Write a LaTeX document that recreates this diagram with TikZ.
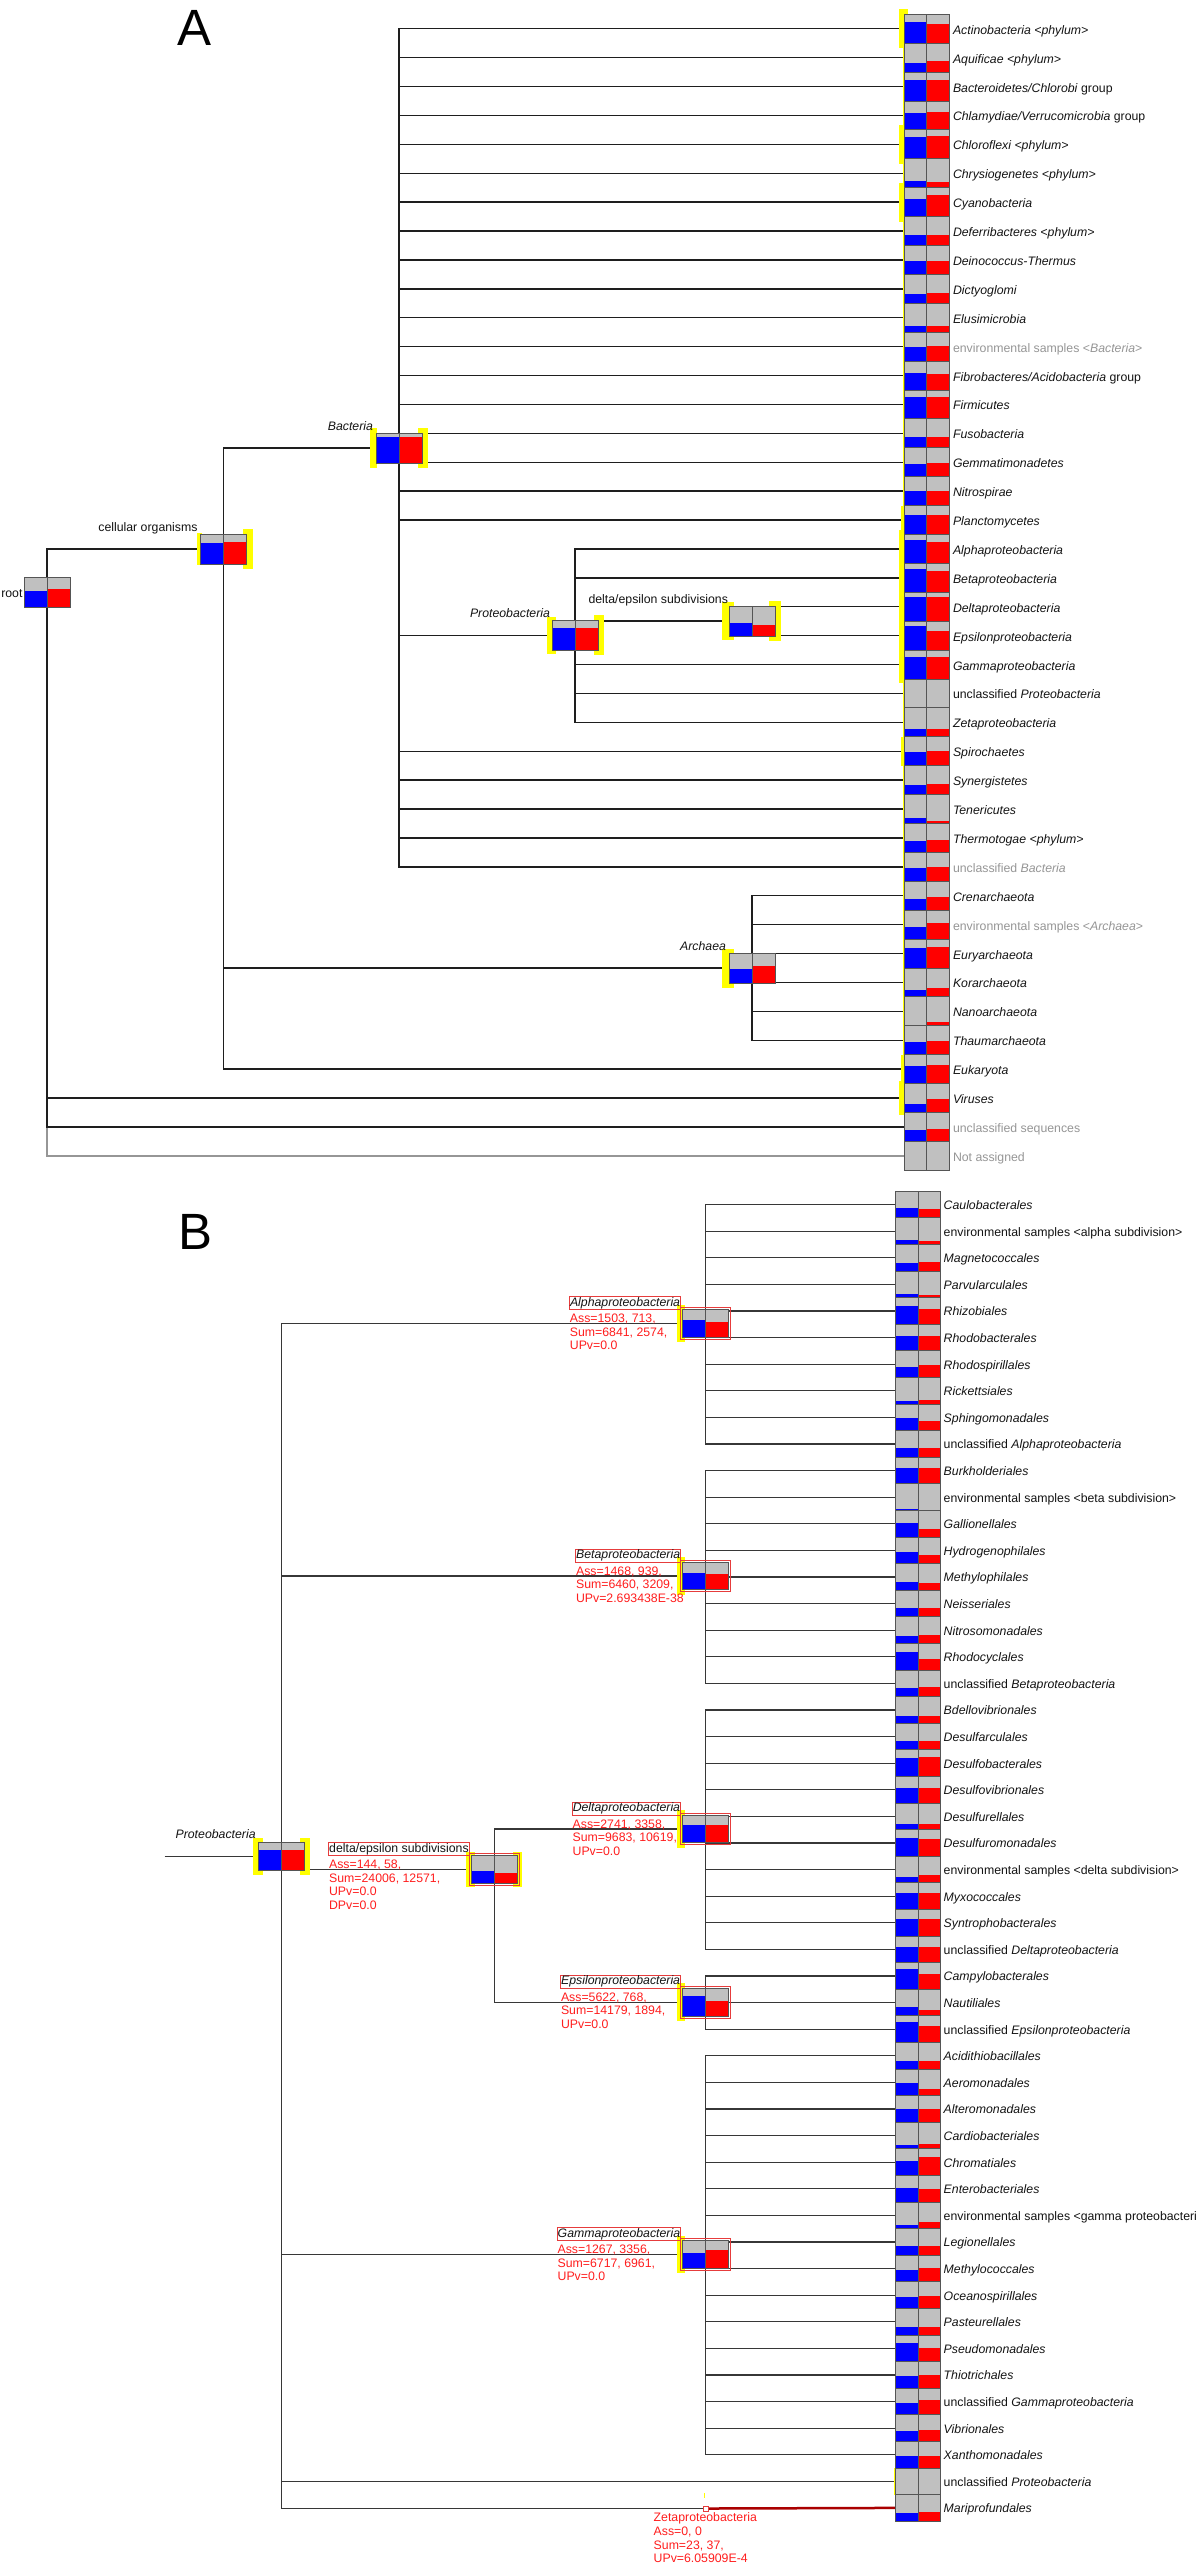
\documentclass[tikz,border=0pt]{standalone}
\usepackage{fontspec}
\setmainfont{Liberation Sans}
\usetikzlibrary{calc}
\pgfdeclarelayer{back}\pgfdeclarelayer{bg}\pgfdeclarelayer{hilite}
\pgfsetlayers{back,bg,hilite,main}
\definecolor{cgrey}{RGB}{192,192,192}
\definecolor{cblue}{RGB}{0,0,255}
\definecolor{cred}{RGB}{255,0,0}
\definecolor{cbord}{RGB}{85,85,85}
\definecolor{hlyel}{RGB}{255,255,0}
\definecolor{lncol}{RGB}{30,30,30}
\definecolor{lnBcol}{RGB}{55,55,55}
\definecolor{gtx}{RGB}{150,150,150}
\definecolor{tx}{RGB}{20,20,20}
\definecolor{rtx}{RGB}{255,30,30}
\definecolor{rbox}{RGB}{230,60,60}
\definecolor{dred}{RGB}{170,0,0}
\tikzset{
 cellA/.style={anchor=west, minimum width=45pt, minimum height=28.9pt, inner sep=0pt, outer sep=0pt},
 cellB/.style={anchor=west, minimum width=45pt, minimum height=26.6pt, inner sep=0pt, outer sep=0pt},
 inA/.style={minimum width=46pt, minimum height=30pt, inner sep=0pt, outer sep=0pt},
 inB/.style={minimum width=45.6pt, minimum height=27.5pt, inner sep=0pt, outer sep=0pt},
 lbl/.style={anchor=base west, inner sep=0pt, outer sep=0pt, font=\fontsize{12.3}{14}\selectfont, text=tx},
 letter/.style={anchor=base west, inner sep=0pt, outer sep=0pt, font=\fontsize{51}{51}\selectfont},
 ln/.style={draw=lncol, line width=1.4pt},
 lnb/.style={draw=lnBcol, line width=1.2pt},
 hlc/.style={fill=hlyel},
 infolbl/.style={lbl, anchor=base east, draw=rbox, line width=0.8pt, inner sep=0.6pt},
 redtx/.style={lbl, text=rtx},
 redframe/.style={draw=rbox, line width=0.9pt},
}
\newcommand\pbar[3]{%
 \fill[cgrey] (#1.south west) rectangle (#1.north east);
 \fill[cblue] (#1.south west) rectangle ($(#1.south)!#2!(#1.north)$);
 \fill[cred] (#1.south) rectangle ($(#1.south east)!#3!(#1.north east)$);
 \draw[cbord, line width=0.9pt] (#1.south west) rectangle (#1.north east) (#1.south) -- (#1.north);
}
\newcommand\leafA[5][tx]{%
 \node[cellA] (a#2) at (904,{28.7+(#2-1)*28.9}) {};
 \pbar{a#2}{#3}{#4}
 \node[lbl,text=#1] (la#2) at (953,{28.7+(#2-1)*28.9+5.5}) {#5};
}
\newcommand\leafB[5][tx]{%
 \node[cellB] (b#2) at (895.5,{1204.5+(#2-1)*26.6}) {};
 \pbar{b#2}{#3}{#4}
 \node[lbl,text=#1] (lb#2) at (943.7,{1204.5+(#2-1)*26.6+5}) {#5};
}
\newcommand\inode[6]{\node[#2] (#1) at (#3,#4) {}; \pbar{#1}{#5}{#6}}
\newcommand\hlL[4]{\fill[hlc] ([xshift=#2pt,yshift=#4pt]#1.north west) rectangle ([xshift=#3pt,yshift=-#4pt]#1.south west);}
\newcommand\hlR[4]{\fill[hlc] ([xshift=#2pt,yshift=#4pt]#1.north east) rectangle ([xshift=#3pt,yshift=-#4pt]#1.south east);}
\newcommand\hlSpan[5]{\fill[hlc] ([xshift=#3pt,yshift=#5pt]#1.north west) rectangle ([xshift=#4pt,yshift=-#5pt]#2.south west);}
\newcommand\infoB[3]{%
 \node[infolbl] (#1L) at ([xshift=-2.1pt,yshift=3.5pt]#1.north west) {#2};
 \foreach \t [count=\k] in {#3} {\node[redtx] (#1R\k) at ([xshift=0.5pt,yshift={-16.4pt-(\k-1)*13.6pt}]#1L.base west) {\t};}
}
\begin{document}
\begin{tikzpicture}[x=1pt,y=-1pt]
\useasboundingbox (0,0) rectangle (1200,2565);
\begin{pgfonlayer}{back}\fill[white] (0,0) rectangle (1200,2565);\end{pgfonlayer}

\node[letter] (lA) at (177,45) {A};
\node[letter] (lB) at (178,1249) {B};

% ---------- Panel A leaves
\leafA{1}{0.72}{0.67}{\textit{Actinobacteria <phylum>}}
\leafA{2}{0.33}{0.37}{\textit{Aquificae <phylum>}}
\leafA{3}{0.74}{0.74}{\textit{Bacteroidetes/Chlorobi} group}
\leafA{4}{0.58}{0.61}{\textit{Chlamydiae/Verrucomicrobia} group}
\leafA{5}{0.74}{0.79}{\textit{Chloroflexi <phylum>}}
\leafA{6}{0.24}{0.21}{\textit{Chrysiogenetes <phylum>}}
\leafA{7}{0.61}{0.74}{\textit{Cyanobacteria}}
\leafA{8}{0.36}{0.36}{\textit{Deferribacteres <phylum>}}
\leafA{9}{0.45}{0.47}{\textit{Deinococcus-Thermus}}
\leafA{10}{0.33}{0.36}{\textit{Dictyoglomi}}
\leafA{11}{0.2}{0.23}{\textit{Elusimicrobia}}
\leafA[gtx]{12}{0.47}{0.51}{environmental samples <\textit{Bacteria}>}
\leafA{13}{0.58}{0.55}{\textit{Fibrobacteres/Acidobacteria} group}
\leafA{14}{0.76}{0.76}{\textit{Firmicutes}}
\leafA{15}{0.37}{0.37}{\textit{Fusobacteria}}
\leafA{16}{0.43}{0.46}{\textit{Gemmatimonadetes}}
\leafA{17}{0.49}{0.49}{\textit{Nitrospirae}}
\leafA{18}{0.66}{0.68}{\textit{Planctomycetes}}
\leafA{19}{0.8}{0.73}{\textit{Alphaproteobacteria}}
\leafA{20}{0.8}{0.73}{\textit{Betaproteobacteria}}
\leafA{21}{0.82}{0.82}{\textit{Deltaproteobacteria}}
\leafA{22}{0.82}{0.66}{\textit{Epsilonproteobacteria}}
\leafA{23}{0.75}{0.75}{\textit{Gammaproteobacteria}}
\leafA{24}{0}{0}{unclassified \textit{Proteobacteria}}
\leafA{25}{0.26}{0.26}{\textit{Zetaproteobacteria}}
\leafA{26}{0.46}{0.51}{\textit{Spirochaetes}}
\leafA{27}{0.34}{0.38}{\textit{Synergistetes}}
\leafA{28}{0.2}{0.1}{\textit{Tenericutes}}
\leafA{29}{0.38}{0.43}{\textit{Thermotogae <phylum>}}
\leafA[gtx]{30}{0.45}{0.49}{unclassified \textit{Bacteria}}
\leafA{31}{0.38}{0.46}{\textit{Crenarchaeota}}
\leafA[gtx]{32}{0.43}{0.54}{environmental samples <\textit{Archaea}>}
\leafA{33}{0.69}{0.72}{\textit{Euryarchaeota}}
\leafA{34}{0.23}{0.31}{\textit{Korarchaeota}}
\leafA{35}{0.02}{0.12}{\textit{Nanoarchaeota}}
\leafA{36}{0.45}{0.49}{\textit{Thaumarchaeota}}
\leafA{37}{0.62}{0.65}{\textit{Eukaryota}}
\leafA{38}{0.28}{0.46}{\textit{Viruses}}
\leafA[gtx]{39}{0.38}{0.42}{unclassified sequences}
\leafA[gtx]{40}{0}{0}{Not assigned}

% ---------- Panel A inner nodes
\inode{rt}{inA}{47}{592}{0.54}{0.59}
\inode{co}{inA}{223.5}{549}{0.71}{0.75}
\inode{bac}{inA}{399}{448}{0.86}{0.86}
\inode{proA}{inA}{575}{635.3}{0.73}{0.73}
\inode{deA}{inA}{752}{621}{0.44}{0.37}
\inode{arc}{inA}{752}{968}{0.48}{0.58}

\node[lbl, anchor=base east] (rtL) at ([xshift=-1.5pt,yshift=-5.5pt]rt.west) {root};
\node[lbl, anchor=base east] (coL) at ([xshift=-3pt,yshift=3pt]co.north west) {cellular organisms};
\node[lbl, anchor=base east] (bacL) at ([xshift=-3pt,yshift=3pt]bac.north west) {\textit{Bacteria}};
\node[lbl, anchor=base east] (proAL) at ([xshift=-2pt,yshift=3pt]proA.north west) {\textit{Proteobacteria}};
\node[lbl, anchor=base east] (deAL) at ([xshift=-1pt,yshift=3pt]deA.north west) {delta/epsilon subdivisions};
\node[lbl, anchor=base east] (arcL) at ([xshift=-3pt,yshift=3pt]arc.north west) {\textit{Archaea}};

% ---------- Panel B leaves
\leafB{1}{0.36}{0.33}{\textit{Caulobacterales}}
\leafB{2}{0.16}{0.13}{environmental samples <alpha subdivision>}
\leafB{3}{0.29}{0.35}{\textit{Magnetococcales}}
\leafB{4}{0.14}{0.11}{\textit{Parvularculales}}
\leafB{5}{0.69}{0.58}{\textit{Rhizobiales}}
\leafB{6}{0.54}{0.54}{\textit{Rhodobacterales}}
\leafB{7}{0.4}{0.45}{\textit{Rhodospirillales}}
\leafB{8}{0.11}{0.16}{\textit{Rickettsiales}}
\leafB{9}{0.49}{0.38}{\textit{Sphingomonadales}}
\leafB{10}{0.35}{0.35}{unclassified \textit{Alphaproteobacteria}}
\leafB{11}{0.59}{0.59}{\textit{Burkholderiales}}
\leafB{12}{0.07}{0.01}{environmental samples <beta subdivision>}
\leafB{13}{0.54}{0.3}{\textit{Gallionellales}}
\leafB{14}{0.44}{0.33}{\textit{Hydrogenophilales}}
\leafB{15}{0.32}{0.26}{\textit{Methylophilales}}
\leafB{16}{0.33}{0.33}{\textit{Neisseriales}}
\leafB{17}{0.29}{0.32}{\textit{Nitrosomonadales}}
\leafB{18}{0.67}{0.42}{\textit{Rhodocyclales}}
\leafB{19}{0.33}{0.36}{unclassified \textit{Betaproteobacteria}}
\leafB{20}{0.26}{0.29}{\textit{Bdellovibrionales}}
\leafB{21}{0.32}{0.35}{\textit{Desulfarculales}}
\leafB{22}{0.69}{0.72}{\textit{Desulfobacterales}}
\leafB{23}{0.58}{0.58}{\textit{Desulfovibrionales}}
\leafB{24}{0.21}{0.21}{\textit{Desulfurellales}}
\leafB{25}{0.68}{0.65}{\textit{Desulfuromonadales}}
\leafB{26}{0.21}{0.28}{environmental samples <delta subdivision>}
\leafB{27}{0.62}{0.62}{\textit{Myxococcales}}
\leafB{28}{0.64}{0.64}{\textit{Syntrophobacterales}}
\leafB{29}{0.6}{0.58}{unclassified \textit{Deltaproteobacteria}}
\leafB{30}{0.76}{0.59}{\textit{Campylobacterales}}
\leafB{31}{0.34}{0.21}{\textit{Nautiliales}}
\leafB{32}{0.75}{0.6}{unclassified \textit{Epsilonproteobacteria}}
\leafB{33}{0.29}{0.31}{\textit{Acidithiobacillales}}
\leafB{34}{0.46}{0.25}{\textit{Aeromonadales}}
\leafB{35}{0.5}{0.5}{\textit{Alteromonadales}}
\leafB{36}{0.15}{0.19}{\textit{Cardiobacteriales}}
\leafB{37}{0.56}{0.69}{\textit{Chromatiales}}
\leafB{38}{0.52}{0.48}{\textit{Enterobacteriales}}
\leafB{39}{0.15}{0.24}{environmental samples <gamma proteobacteri}
\leafB{40}{0.36}{0.36}{\textit{Legionellales}}
\leafB{41}{0.43}{0.51}{\textit{Methylococcales}}
\leafB{42}{0.43}{0.46}{\textit{Oceanospirillales}}
\leafB{43}{0.3}{0.3}{\textit{Pasteurellales}}
\leafB{44}{0.71}{0.53}{\textit{Pseudomonadales}}
\leafB{45}{0.46}{0.49}{\textit{Thiotrichales}}
\leafB{46}{0.46}{0.55}{unclassified \textit{Gammaproteobacteria}}
\leafB{47}{0.4}{0.44}{\textit{Vibrionales}}
\leafB{48}{0.44}{0.46}{\textit{Xanthomonadales}}
\leafB{49}{0}{0}{unclassified \textit{Proteobacteria}}
\leafB{50}{0.3}{0.36}{\textit{Mariprofundales}}

% ---------- Panel B inner nodes
\inode{pb}{inB}{281.4}{1856.3}{0.73}{0.73}
\inode{deB}{inB}{494.2}{1869.5}{0.43}{0.37}
\inode{al}{inB}{705.6}{1323.5}{0.63}{0.54}
\inode{be}{inB}{705.6}{1576}{0.61}{0.59}
\inode{dl}{inB}{705.6}{1829}{0.66}{0.66}
\inode{ep}{inB}{705.6}{2002.2}{0.73}{0.54}
\inode{ga}{inB}{705.6}{2254.3}{0.56}{0.65}
\coordinate (pbin) at (164.5,1856.3);
\node[draw=rbox, fill=white, line width=0.8pt, minimum width=5.5pt, minimum height=5pt, inner sep=0pt] (zt) at (705.8,2508.5) {};

\node[lbl, anchor=base east] (pbL) at ([xshift=-3pt,yshift=3.7pt]pb.north west) {\textit{Proteobacteria}};
\infoB{al}{\textit{Alphaproteobacteria}}{{Ass=1503, 713,},{Sum=6841, 2574,},{UPv=0.0}}
\infoB{be}{\textit{Betaproteobacteria}}{{Ass=1468, 939,},{Sum=6460, 3209,},{UPv=2.693438E-38}}
\infoB{dl}{\textit{Deltaproteobacteria}}{{Ass=2741, 3358,},{Sum=9683, 10619,},{UPv=0.0}}
\infoB{ep}{\textit{Epsilonproteobacteria}}{{Ass=5622, 768,},{Sum=14179, 1894,},{UPv=0.0}}
\infoB{ga}{\textit{Gammaproteobacteria}}{{Ass=1267, 3356,},{Sum=6717, 6961,},{UPv=0.0}}
\infoB{deB}{delta/epsilon subdivisions}{{Ass=144, 58,},{Sum=24006, 12571,},{UPv=0.0},{DPv=0.0}}
\foreach \t [count=\k] in {Zetaproteobacteria,{Ass=0, 0},{Sum=23, 37,},{UPv=6.05909E-4}}
  {\node[redtx] (ztR\k) at (653.7,{2521.5+(\k-1)*13.8}) {\t};}

% red frames round B nodes
\foreach \n in {al,be,dl,ep,ga,deB}
  {\draw[redframe] ([xshift=-2pt,yshift=2pt]\n.north west) rectangle ([xshift=2pt,yshift=-2pt]\n.south east);}

% ---------- highlights
\begin{pgfonlayer}{hilite}
 \fill[hlc] ([xshift=-1.5pt]a1.north west) rectangle ([xshift=1pt]a38.south west);
 \hlSpan{a1}{a1}{-5.5}{4}{5}
 \hlSpan{a5}{a5}{-5.5}{4}{5}
 \hlSpan{a7}{a7}{-5.5}{4}{5}
 \hlSpan{a19}{a23}{-5.5}{4}{4}
 \hlSpan{a38}{a38}{-5.5}{4}{3}
 \hlSpan{a18}{a18}{-3}{1}{0}
 \hlSpan{a26}{a26}{-3}{1}{0}
 \hlSpan{a37}{a37}{-3}{1}{0}
 \hlSpan{b49}{b49}{-1.5}{0.5}{0}
 \hlL{co}{-4}{1}{1}  \hlR{co}{-4}{6}{5}
 \hlL{bac}{-6}{1}{5} \hlR{bac}{-4}{5.5}{5}
 \hlL{proA}{-5.5}{3.7}{3.5} \hlR{proA}{-4}{6}{5}
 \hlL{deA}{-7}{4.6}{4} \hlR{deA}{-6}{6}{5}
 \hlL{arc}{-7}{4.6}{4.5} \hlR{arc}{-1}{1}{0}
 \hlL{pb}{-6}{4}{5} \hlR{pb}{-4}{6}{5}
 \hlL{deB}{-5}{4}{4} \hlR{deB}{-4}{5}{4}
 \foreach \n in {al,be,dl,ep,ga} {\hlL{\n}{-6}{2}{5}}
 \fill[hlc] (704.3,2493) rectangle (705.3,2498);
\end{pgfonlayer}

% ---------- connectors
\begin{pgfonlayer}{bg}
 \draw[ln, draw=gtx] (rt.center) |- (a40.west);
 \draw[ln] (rt.center) |- (co.west);
 \foreach \i in {38,39} {\draw[ln] (rt.center) |- (a\i.west);}
 \draw[ln] (co.center) |- (bac.west);
 \draw[ln] (co.center) |- (arc.west);
 \draw[ln] (co.center) |- (a37.west);
 \foreach \i in {1,...,18,26,27,28,29,30} {\draw[ln] (bac.center) |- (a\i.west);}
 \draw[ln] (bac.center) |- (proA.west);
 \foreach \i in {19,20,23,24,25} {\draw[ln] (proA.center) |- (a\i.west);}
 \draw[ln] (proA.center) |- (deA.west);
 \foreach \i in {21,22} {\draw[ln] (deA.center) |- (a\i.west);}
 \foreach \i in {31,...,36} {\draw[ln] (arc.center) |- (a\i.west);}
 % B
 \draw[lnb] (pbin) -- (pb.west);
 \draw[lnb] (pb.center) |- (zt.west);
 \foreach \n in {al,be,deB,ga,b49} {\draw[lnb] (pb.center) |- (\n.west);}
 \foreach \i in {1,...,10} {\draw[lnb] (al.center) |- (b\i.west);}
 \foreach \i in {11,...,19} {\draw[lnb] (be.center) |- (b\i.west);}
 \draw[lnb] (deB.center) |- (dl.west);
 \draw[lnb] (deB.center) |- (ep.west);
 \foreach \i in {20,...,29} {\draw[lnb] (dl.center) |- (b\i.west);}
 \foreach \i in {30,31,32} {\draw[lnb] (ep.center) |- (b\i.west);}
 \foreach \i in {33,...,48} {\draw[lnb] (ga.center) |- (b\i.west);}
 \draw[dred, line width=2.5pt] (zt.east) -- (b50.west);
\end{pgfonlayer}
\end{tikzpicture}
\end{document}
